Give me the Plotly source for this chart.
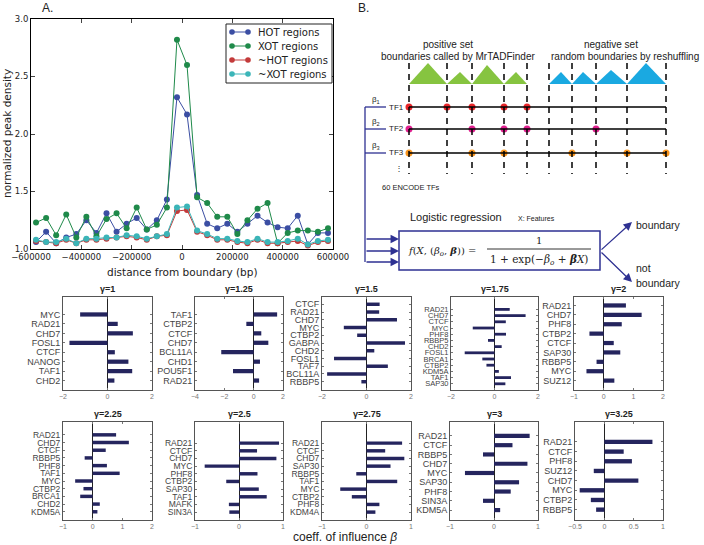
import plotly.graph_objects as go

W, H = 704, 545

# ---------------- Panel A data ----------------
distance = [-580000 + 40000 * k for k in range(30)]
hot = [1.06, 1.15, 1.05, 1.10, 1.13, 1.25, 1.14, 1.31, 1.15, 1.22, 1.27, 1.17, 1.25, 1.43, 2.32,
       2.17, 1.47, 1.22, 1.18, 1.22, 1.15, 1.22, 1.29, 1.23, 1.19, 1.18, 1.29, 1.04, 1.14, 1.14]
xot = [1.23, 1.27, 1.12, 1.30, 1.10, 1.28, 1.11, 1.26, 1.31, 1.18, 1.36, 1.17, 1.21, 1.36, 2.82,
       2.60, 1.45, 1.40, 1.28, 1.28, 1.13, 1.25, 1.35, 1.40, 1.05, 1.14, 1.16, 1.16, 1.15, 1.18]
not_hot = [1.07, 1.06, 1.05, 1.08, 1.05, 1.08, 1.08, 1.09, 1.10, 1.11, 1.10, 1.08, 1.11, 1.12, 1.33,
           1.34, 1.15, 1.12, 1.08, 1.08, 1.06, 1.05, 1.08, 1.05, 1.05, 1.06, 1.07, 1.03, 1.06, 1.07]
not_xot = [1.08, 1.06, 1.06, 1.09, 1.05, 1.09, 1.09, 1.10, 1.10, 1.12, 1.11, 1.09, 1.11, 1.13, 1.36,
           1.37, 1.16, 1.13, 1.09, 1.09, 1.07, 1.06, 1.09, 1.06, 1.06, 1.07, 1.09, 1.04, 1.07, 1.08]
series_names = ["HOT regions", "XOT regions", "~HOT regions", "~XOT regions"]
series_colors = ["#3b4ea3", "#1f8a4a", "#c33a3a", "#3bb5b8"]
a_xticks = [-600000, -400000, -200000, 0, 200000, 400000, 600000]
a_xticklabels = ["\u2212600000", "\u2212400000", "\u2212200000", "0", "200000", "400000", "600000"]
a_yticks = [1.0, 1.5, 2.0, 2.5, 3.0]

# ---------------- Panel C data (logistic regression coefficients) ----------------
gammas = ["\u03b3=1", "\u03b3=1.25", "\u03b3=1.5", "\u03b3=1.75", "\u03b3=2",
          "\u03b3=2.25", "\u03b3=2.5", "\u03b3=2.75", "\u03b3=3", "\u03b3=3.25"]
tf_g1 = ["MYC", "RAD21", "CHD7", "FOSL1", "CTCF", "NANOG", "TAF1", "CHD2"]
coef_g1 = [-1.23, 0.46, 1.14, -1.71, 0.33, 0.94, 1.11, 0.31]
tf_g125 = ["TAF1", "CTBP2", "CTCF", "CHD7", "BCL11A", "CHD1", "POU5F1", "RAD21"]
coef_g125 = [1.6, -0.5, 0.52, 1.0, -2.21, 0.43, -1.41, 0.37]
tf_g15 = ["CTCF", "RAD21", "CHD7", "MYC", "CTBP2", "GABPA", "CHD2", "FOSL1", "TAF7", "BCL11A", "RBBP5"]
coef_g15 = [0.59, 0.57, 1.37, -1.02, -0.42, 1.73, 0.35, -1.46, 0.96, -1.77, -0.23]
tf_g175 = ["RAD21", "CHD7", "CTCF", "MYC", "PHF8", "RBBP5", "CHD2", "FOSL1", "BRCA1", "CTBP2",
           "KDM5A", "TAF1", "SAP30"]
coef_g175 = [0.70, 1.43, 0.52, -1.00, 0.53, -0.30, 0.33, -1.37, -0.56, -0.37, 0.20, 0.76, 0.50]
tf_g2 = ["RAD21", "CHD7", "PHF8", "CTBP2", "CTCF", "SAP30", "RBBP5", "MYC", "SUZ12"]
coef_g2 = [0.75, 1.28, 0.61, -0.48, 0.34, 0.56, -0.24, -0.58, 0.36]
tf_g225 = ["RAD21", "CHD7", "CTCF", "RBBP5", "PHF8", "TAF1", "MYC", "CTBP2", "BRCA1", "CHD2", "KDM5A"]
coef_g225 = [0.79, 1.22, 0.44, -0.27, 0.48, 0.91, -0.59, -0.31, -0.42, 0.24, 0.16]
tf_g25 = ["RAD21", "CTCF", "CHD7", "MYC", "PHF8", "CTBP2", "SAP30", "TAF1", "MAFK", "SIN3A"]
coef_g25 = [0.91, 0.41, 0.85, -0.78, 0.42, -0.29, 0.45, 0.63, -0.23, -0.22]
tf_g275 = ["RAD21", "CTCF", "CHD7", "SAP30", "RBBP5", "TAF1", "MYC", "CTBP2", "PHF8", "KDM4A"]
coef_g275 = [0.80, 0.42, 0.85, 0.54, -0.23, 0.69, -0.59, -0.33, 0.29, 0.20]
tf_g3 = ["RAD21", "CTCF", "RBBP5", "CHD7", "MYC", "SAP30", "PHF8", "SIN3A", "KDM5A"]
coef_g3 = [0.81, 0.42, -0.25, 0.76, -0.66, 0.57, 0.38, -0.25, 0.14]
tf_g325 = ["RAD21", "CTCF", "PHF8", "SUZ12", "CHD7", "MYC", "CTBP2", "RBBP5"]
coef_g325 = [0.82, 0.33, 0.47, -0.18, 0.58, -0.42, -0.23, -0.14]

tf_lists = [tf_g1, tf_g125, tf_g15, tf_g175, tf_g2, tf_g225, tf_g25, tf_g275, tf_g3, tf_g325]
coef_lists = [coef_g1, coef_g125, coef_g15, coef_g175, coef_g2, coef_g225, coef_g25, coef_g275,
              coef_g3, coef_g325]
x_ranges = [[-2, 2], [-4, 2], [-2, 2], [-2, 2], [-1, 2], [-1, 2], [-1, 1], [-1, 1], [-1, 1], [-0.5, 1]]
x_dticks = [2, 2, 2, 2, 1, 1, 1, 1, 1, 0.5]
y_tops = [9.85, 9.85, 11.94, 15.0, 9.9, 12.67, 12.76, 12.76, 10.5, 10.06]
y_bots = [0.0, 0.0, -0.07, 0.0, 0.0, -0.07, -0.03, -0.03, -0.07, -0.07]
label_sizes = [9, 9, 9, 7.5, 9, 8.5, 8.5, 8.5, 9, 9]

# panel frames in pixels (left, right, top, bottom)
frames = [(63, 152, 297, 390), (195, 283, 297, 390), (322, 411, 297, 390), (451, 538, 297, 390),
          (574, 663, 297, 390),
          (63, 152, 422, 520), (195, 283, 422, 520), (322, 411, 422, 520), (450, 538, 422, 520),
          (575, 663, 422, 520)]


def px(x):
    return x / W


def py(y):
    return 1 - y / H


annotations = []
shapes = []


def txt(x, y, text, size, family, color="#222", xanchor="center", yanchor="middle", **kw):
    annotations.append(dict(x=px(x), y=py(y), xref="paper", yref="paper", text=text, showarrow=False,
                            xanchor=xanchor, yanchor=yanchor,
                            font=dict(family=family, size=size, color=color), **kw))


fig = go.Figure()

# ---------- Panel A ----------
for name, col, vals in zip(series_names, series_colors, [hot, xot, not_hot, not_xot]):
    fig.add_trace(go.Scatter(x=distance, y=vals, mode="lines+markers", name=name,
                             line=dict(color=col, width=1), marker=dict(color=col, size=6),
                             xaxis="x", yaxis="y", showlegend=False))

afont = "DejaVu Sans"
layout = dict(
    width=W, height=H, margin=dict(l=0, r=0, t=0, b=0, autoexpand=False), paper_bgcolor="white",
    plot_bgcolor="rgba(0,0,0,0)", showlegend=False,
    xaxis=dict(domain=[px(31), px(333)], anchor="y", range=[-600000, 600000], automargin=False,
               tickvals=a_xticks, ticktext=a_xticklabels, showgrid=False, zeroline=False,
               showline=True, linecolor="black", linewidth=1, mirror="ticks", ticks="inside",
               ticklen=4, tickfont=dict(family=afont, size=8.5, color="#222")),
    yaxis=dict(domain=[py(249), py(19)], anchor="x", range=[1.0, 3.0], tickvals=a_yticks,
               automargin=False, tickformat=".1f", showgrid=False, zeroline=False, showline=True,
               linecolor="black", linewidth=1, mirror="ticks", ticks="inside", ticklen=4,
               tickfont=dict(family=afont, size=8.5, color="#222")),
)

txt(182, 272, "distance from boundary (bp)", 10.5, afont)
txt(7, 134, "normalized peak density", 10.5, afont, textangle=-90)

# manual legend (matplotlib style, two markers per entry)
shapes.append(dict(type="rect", xref="paper", yref="paper", x0=px(226), x1=px(332), y0=py(24), y1=py(83),
                   line=dict(color="#222", width=1), fillcolor="white", layer="above"))
for k, (name, col) in enumerate(zip(series_names, series_colors)):
    yy = 32 + 14 * k
    shapes.append(dict(type="line", xref="paper", yref="paper", x0=px(232), x1=px(248), y0=py(yy), y1=py(yy),
                       line=dict(color=col, width=1), layer="above"))
    for cx in (232, 248):
        shapes.append(dict(type="circle", xref="paper", yref="paper", x0=px(cx - 2.8), x1=px(cx + 2.8),
                           y0=py(yy + 2.8), y1=py(yy - 2.8), fillcolor=col, line=dict(width=0),
                           layer="above"))
    txt(256, yy, name, 10, afont, xanchor="left")

bar_color = "#25255e"
for i in range(10):
    ax_id = i + 2
    xa = "x%d" % ax_id
    ya = "y%d" % ax_id
    tfs = tf_lists[i]
    n = len(tfs)
    pos = list(range(n, 0, -1))
    fig.add_trace(go.Bar(x=coef_lists[i], y=pos, orientation="h", width=0.45,
                         marker=dict(color=bar_color, line=dict(width=0)), showlegend=False,
                         xaxis=xa, yaxis=ya))
    l, r, t, b = frames[i]
    layout["xaxis%d" % ax_id] = dict(
        domain=[px(l), px(r)], anchor=ya, range=x_ranges[i], dtick=x_dticks[i], tick0=0,
        automargin=False, showgrid=False, zeroline=True, zerolinecolor="#222", zerolinewidth=1,
        showline=True, linecolor="#555", linewidth=1, mirror="ticks", ticks="inside", ticklen=2,
        tickcolor="#777", tickfont=dict(family="Liberation Sans", size=7, color="#777"))
    layout["yaxis%d" % ax_id] = dict(
        domain=[py(b), py(t)], anchor=xa, range=[y_bots[i], y_tops[i]], tickvals=pos, ticktext=tfs,
        automargin=False, showgrid=False, zeroline=False, showline=True, linecolor="#555", linewidth=1,
        mirror="ticks", ticks="inside", ticklen=2, tickcolor="#777",
        tickfont=dict(family="Liberation Sans", size=label_sizes[i], color="#444"))
    txt((l + r) / 2, t - 1, "<b>%s</b>" % gammas[i], 9, "Liberation Sans", yanchor="bottom")

txt(345, 537, "coeff. of influence <i>\u03b2</i>", 12, "Liberation Sans")
txt(47, 8, "A.", 12, "Liberation Sans")
txt(363, 8, "B.", 12, "Liberation Sans")

# ---------- Panel B diagram ----------
navy = "#2e3192"
dfont = "Liberation Sans"
bounds = [409, 447, 472, 504, 527, 549, 572, 596, 627, 666]
for xb in bounds:
    shapes.append(dict(type="line", xref="paper", yref="paper", x0=px(xb), x1=px(xb), y0=py(63), y1=py(174),
                       line=dict(color="black", width=1.5, dash="6px,5px")))
green_tris = [(409, 447, 428, 63), (447, 472, 460, 72), (472, 504, 487, 65), (504, 527, 516, 72)]
blue_tris = [(549, 572, 561, 72), (572, 596, 583, 72), (596, 627, 611, 70), (627, 666, 646, 63)]
for tris, col in [(green_tris, "#86c440"), (blue_tris, "#1aa9e1")]:
    for (x0, x1, xa_, ya_) in tris:
        path = "M %f %f L %f %f L %f %f Z" % (px(x0), py(84), px(xa_), py(ya_), px(x1), py(84))
        shapes.append(dict(type="path", xref="paper", yref="paper", path=path, fillcolor=col,
                           line=dict(width=0)))
tf_y = [107, 129, 153]
for y in tf_y:
    shapes.append(dict(type="line", xref="paper", yref="paper", x0=px(409), x1=px(666), y0=py(y), y1=py(y),
                       line=dict(color="black", width=1.3)))
    shapes.append(dict(type="line", xref="paper", yref="paper", x0=px(365), x1=px(386), y0=py(y), y1=py(y),
                       line=dict(color=navy, width=1.3)))
shapes.append(dict(type="line", xref="paper", yref="paper", x0=px(365), x1=px(365), y0=py(107), y1=py(262),
                   line=dict(color=navy, width=1.3)))
shapes.append(dict(type="rect", xref="paper", yref="paper", x0=px(399), x1=px(600), y0=py(231), y1=py(270),
                   line=dict(color=navy, width=1.5)))
shapes.append(dict(type="line", xref="paper", yref="paper", x0=px(487), x1=px(591), y0=py(249), y1=py(249),
                   line=dict(color="black", width=0.8)))
dot_x = [[409, 447, 472, 504, 527], [409, 472, 504, 527, 596], [409, 472, 504, 572, 627, 666]]
dot_col = ["#e8262a", "#e0208f", "#f7941d"]
for xs, y, c in zip(dot_x, tf_y, dot_col):
    fig.add_trace(go.Scatter(x=[px(v) for v in xs], y=[py(y)] * len(xs), mode="markers",
                             marker=dict(color=c, size=7), showlegend=False, xaxis="x12", yaxis="y12",
                             hoverinfo="skip"))
layout["xaxis12"] = dict(domain=[0, 1], range=[0, 1], visible=False, anchor="y12", automargin=False)
layout["yaxis12"] = dict(domain=[0, 1], range=[0, 1], visible=False, anchor="x12", automargin=False)

txt(448, 44, "positive set", 10, dfont)
txt(458, 57, "boundaries called by MrTADFinder", 10, dfont)
txt(611, 44, "negative set", 10, dfont)
txt(625, 57, "random boundaries by reshuffling", 10, dfont)
txt(380, 187, "60 ENCODE TFs", 7.5, dfont, xanchor="left")
txt(408, 217, "Logistic regression", 11, dfont, xanchor="left")
txt(516, 218, "X: Features", 7, dfont, xanchor="left")
txt(634, 225, "boundary", 10.5, dfont, xanchor="left")
txt(634, 268, "not", 10.5, dfont, xanchor="left")
txt(634, 283, "boundary", 10.5, dfont, xanchor="left")
for i, y in enumerate(tf_y):
    txt(406, y, "TF%d" % (i + 1), 8, dfont, xanchor="right")
    txt(376, y - 7, "\u03b2<sub>%d</sub>" % (i + 1), 8, dfont)
txt(399, 168, "\u22ee", 8, dfont)
sf = "DejaVu Serif"
txt(442, 251, "<i>f</i>(<i>X</i>, (<i>\u03b2<sub>o</sub></i>, <b><i>\u03b2</i></b>)) =", 10, sf)
txt(539, 241, "1", 10, sf)
txt(539, 260, "1 + exp(\u2212<i>\u03b2<sub>o</sub></i> + <b><i>\u03b2</i></b><i>X</i>)", 10.5, sf)
for y in [239, 251, 262]:
    annotations.append(dict(x=px(399), y=py(y), xref="paper", yref="paper", ax=-34, ay=0, text="",
                            showarrow=True, arrowhead=2, arrowsize=1.3, arrowwidth=1.3, arrowcolor=navy))
annotations.append(dict(x=px(632), y=py(222), xref="paper", yref="paper", ax=-32, ay=29, text="",
                        showarrow=True, arrowhead=2, arrowsize=1.3, arrowwidth=1.3, arrowcolor=navy))
annotations.append(dict(x=px(632), y=py(282), xref="paper", yref="paper", ax=-32, ay=-31, text="",
                        showarrow=True, arrowhead=2, arrowsize=1.3, arrowwidth=1.3, arrowcolor=navy))

layout["annotations"] = annotations
layout["shapes"] = shapes
fig.update_layout(**layout)
fig.write_html("out.html")
